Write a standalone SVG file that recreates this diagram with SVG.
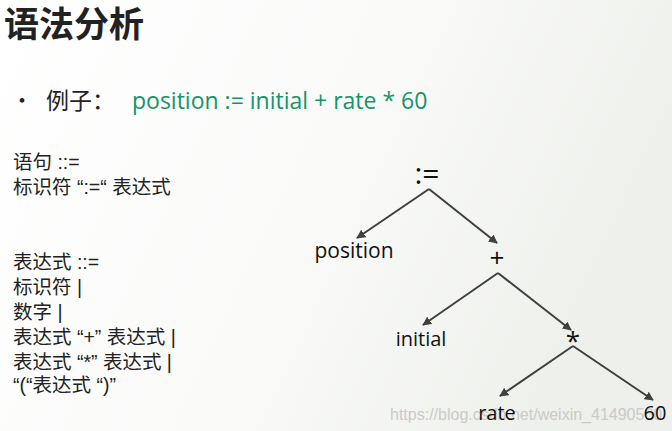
<svg xmlns="http://www.w3.org/2000/svg" width="672" height="431" viewBox="0 0 672 431">
<defs>
<linearGradient id="bg" x1="0" y1="0" x2="1" y2="0.3">
<stop offset="0" stop-color="#ffffff"/>
<stop offset="0.6" stop-color="#f9faf8"/>
<stop offset="1" stop-color="#eef0ec"/>
</linearGradient>
<marker id="ah" viewBox="0 0 10 10" refX="9" refY="5" markerWidth="4.5" markerHeight="4.5" orient="auto" markerUnits="strokeWidth">
<path d="M0,0 L10,5 L0,10 z" fill="#404040"/>
</marker>
<style>
.cjk{font-family:"Noto Sans CJK SC","Noto Sans",sans-serif;fill:#222}
.rule{font-family:"Liberation Sans","Noto Sans CJK SC",sans-serif;font-size:19.5px;fill:#222}
.node{font-family:"Open Sans","Noto Sans",sans-serif;fill:#111}
.edge{stroke:#404040;stroke-width:2;fill:none;marker-end:url(#ah)}
.wm{font-family:"Liberation Sans",Arial,sans-serif;font-size:16px;fill:#cacaca}
</style>
</defs>
<rect width="672" height="431" fill="url(#bg)"/>
<text x="4" y="37" class="cjk" font-size="35" font-weight="bold" fill="#111">语法分析</text>
<text x="11" y="108" class="cjk" font-size="22">•</text>
<text x="46" y="109" class="cjk" font-size="23">例子：</text>
<text x="132" y="109" font-family="'Open Sans','Noto Sans',sans-serif" font-size="23" fill="#13956a">position := initial + rate * 60</text>
<g id="rules">
<text x="13" y="169" class="rule">语句 ::=</text>
<text x="13" y="194" class="rule">标识符 “:=“ 表达式</text>
<text x="13" y="269" class="rule">表达式 ::=</text>
<text x="13" y="294" class="rule">标识符 |</text>
<text x="13" y="319" class="rule">数字 |</text>
<text x="13" y="344" class="rule">表达式 “+” 表达式 |</text>
<text x="13" y="369" class="rule">表达式 “*” 表达式 |</text>
<text x="13" y="392" class="rule">“(“表达式 “)”</text>
</g>
<text x="390" y="420" class="wm">https://blog.csdn.net/weixin_41490560</text>
<g id="connectors">
<line class="edge" x1="429" y1="189" x2="357" y2="238"/>
<line class="edge" x1="429" y1="189" x2="497" y2="243"/>
<line class="edge" x1="498" y1="273" x2="423" y2="325"/>
<line class="edge" x1="498" y1="273" x2="571" y2="330"/>
<line class="edge" x1="573" y1="346" x2="500" y2="396"/>
<line class="edge" x1="573" y1="346" x2="653" y2="400"/>
</g>
<g id="n-assign"><text x="427" y="184" class="node" font-size="30" text-anchor="middle">:=</text></g>
<g id="n-position"><text x="354" y="258" class="node" font-size="21" text-anchor="middle">position</text></g>
<g id="n-plus"><text x="497" y="267" class="node" font-size="26" text-anchor="middle">+</text></g>
<g id="n-initial"><text x="421" y="346" class="node" font-size="20" text-anchor="middle">initial</text></g>
<g id="n-times"><text x="573" y="350" class="node" font-size="26" text-anchor="middle">*</text></g>
<g id="n-rate"><text x="497" y="420" class="node" font-size="20" text-anchor="middle">rate</text></g>
<g id="n-60"><text x="655" y="420" class="node" font-size="20" text-anchor="middle">60</text></g>
</svg>
